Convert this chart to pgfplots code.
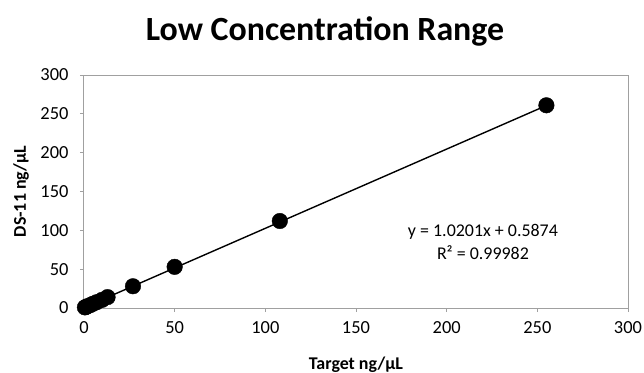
\documentclass[border=0pt]{standalone}
\usepackage{fontspec}
\setmainfont{Carlito}
\usepackage{pgfplots}
\pgfplotsset{compat=1.18}
\definecolor{axgray}{HTML}{A0A0A0}
\begin{document}
\begin{tikzpicture}
\path[use as bounding box] (-84bp,-65bp) rectangle (560bp,308bp);
\begin{axis}[
  scale only axis,
  width=544bp, height=233bp,
  xmin=0, xmax=300, ymin=0, ymax=300,
  xtick={0,50,...,300}, ytick={0,50,...,300},
  tick align=outside,
  major tick length=4bp,
  axis line style={axgray, line width=1bp},
  tick style={axgray, line width=1bp},
  xtick pos=bottom, ytick pos=left,
  /pgf/number format/assume math mode=true,
  ticklabel style={font=\fontsize{18.5}{20}\selectfont, text=black},
  xticklabel style={yshift=-6bp},
  yticklabel style={xshift=-8bp},
  xlabel={\textbf{Target ng/µL}},
  ylabel={\textbf{DS-11 ng/µL}},
  label style={font=\fontsize{18}{20}\selectfont},
  xlabel style={at={(axis description cs:0.5,0)}, anchor=center, yshift=-57bp},
  ylabel style={at={(axis description cs:0,0.5)}, anchor=center, yshift=63bp},
  title={\textbf{Low Concentration Range}},
  title style={font=\fontsize{34}{38}\selectfont, at={(axis description cs:0.443,1)}, anchor=center, yshift=38bp},
  clip=false,
]
\addplot[black, line width=1.4bp] coordinates {(0,0.5874) (255,260.71)};
\addplot[only marks, mark=*, mark size=7.8bp, black] coordinates {
(0.5,0.8) (1,1.3) (2,2.4) (3.5,3.8) (5,5.5) (7,7.5) (10,10.5) (13,14)
(27,28) (50,53) (108,112) (255,261)
};
\node[font=\fontsize{18}{23}\selectfont, align=center] at (axis cs:220,85) {y = 1.0201x + 0.5874\\R² = 0.99982};
\end{axis}
\end{tikzpicture}
\end{document}
